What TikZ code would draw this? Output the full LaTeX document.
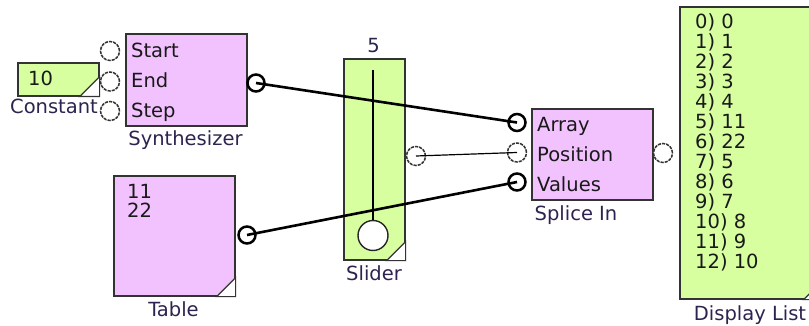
\documentclass[tikz,border=0pt]{standalone}
\usepackage{fontspec}
\setmainfont{DejaVu Sans}
\definecolor{lgreen}{RGB}{215,255,160}
\definecolor{lpink}{RGB}{242,194,255}
\definecolor{labelc}{RGB}{45,35,80}
\begin{document}
\begin{tikzpicture}[x=1pt,y=-1pt,
  box/.style={draw=black!80, line width=1.6pt, inner sep=0pt, anchor=north west},
  greenbox/.style={box, fill=lgreen},
  pinkbox/.style={box, fill=lpink},
  txt/.style={inner sep=0pt, anchor=base west, font=\fontsize{19.5}{20}\selectfont, text=black!90},
  lbl/.style={inner sep=0pt, anchor=base, font=\fontsize{19.5}{20}\selectfont, text=labelc},
  openport/.style={circle, draw=black!80, fill=white, line width=1.5pt, dash pattern=on 3.2pt off 1pt, minimum size=19pt, inner sep=0pt},
  solidport/.style={circle, draw=black, fill=white, line width=2.5pt, minimum size=17pt, inner sep=0pt},
  knob/.style={circle, draw=black!85, fill=white, line width=1.4pt, minimum size=30pt, inner sep=0pt},
  wire/.style={line width=2.6pt, black},
  thinwire/.style={line width=1.2pt, black},
  corner/.style={fill=white, draw=black!80, line width=1.2pt}
]
\useasboundingbox (0,0) rectangle (809,326);
\clip (0,0) rectangle (809,326);

% Constant
\node[greenbox, minimum width=81pt, minimum height=33pt] (const) at (17,62) {};
\filldraw[corner] ([xshift=-20pt]const.south east) -- (const.south east) -- ([yshift=20pt]const.south east) -- cycle;
\node[txt] (constval) at (28,86) {10};
\node[lbl] (constlbl) at (54,114) {Constant};

% Synthesizer
\node[pinkbox, minimum width=121pt, minimum height=92pt] (synth) at (125,33) {};
\node[txt] (tstart) at (131,58) {Start};
\node[txt] (tend) at (131,88) {End};
\node[txt] (tstep) at (131,118) {Step};
\node[lbl] (synthlbl) at (185.5,146) {Synthesizer};
\node[openport] (pstart) at (110,51) {};
\node[openport] (pend) at (110,81.5) {};
\node[openport] (pstep) at (110,111) {};
\node[solidport] (synout) at (256,83) {};

% Table
\node[pinkbox, minimum width=121pt, minimum height=120pt] (table) at (113,175) {};
\filldraw[corner] ([xshift=-19pt]table.south east) -- (table.south east) -- ([yshift=19pt]table.south east) -- cycle;
\node[txt] (t11) at (127,198) {11};
\node[txt] (t22) at (127,217) {22};
\node[lbl] (tablelbl) at (173.5,316) {Table};
\node[solidport] (tabout) at (247,235) {};

% Slider
\node[greenbox, minimum width=61pt, minimum height=201pt] (slider) at (343,58) {};
\filldraw[corner] ([xshift=-19pt]slider.south east) -- (slider.south east) -- ([yshift=19pt]slider.south east) -- cycle;
\node[lbl] (sval) at (373.5,53) {5};
\coordinate (sltop) at (373,70);
\node[knob] (knobc) at (373,235.5) {};
\draw[line width=1.3pt, black] (sltop) -- (knobc.north);
\node[lbl] (sliderlbl) at (374,280) {Slider};
\node[openport] (slout) at (416,156) {};

% Splice In
\node[pinkbox, minimum width=121pt, minimum height=91pt] (splice) at (531,108) {};
\node[txt] (tarr) at (537,132) {Array};
\node[txt] (tpos) at (537,162) {Position};
\node[txt] (tval) at (537,191) {Values};
\node[lbl] (splicelbl) at (576,220) {Splice In};
\node[solidport] (parr) at (517,122.5) {};
\node[openport] (ppos) at (517,152.5) {};
\node[solidport] (pval) at (517,182) {};
\node[openport] (spout) at (663,153) {};

% Display List
\node[greenbox, minimum width=143pt, minimum height=292pt] (disp) at (679,6) {};
\filldraw[corner] ([xshift=-20pt]disp.south east) -- (disp.south east) -- ([yshift=20pt]disp.south east) -- cycle;
\foreach \t [count=\k from 0] in {0) 0,1) 1,2) 2,3) 3,4) 4,5) 11,6) 22,7) 5,8) 6,9) 7,10) 8,11) 9,12) 10}
  \node[txt] (dl\k) at (695,29+19.95*\k) {\t};
\node[lbl] (displbl) at (750,320) {Display List};

% Connectors
\draw[wire] (synout.center) -- (parr.center);
\draw[wire] (tabout.center) -- (pval.center);
\draw[thinwire] (slout.center) -- (ppos.center);
\end{tikzpicture}
\end{document}
